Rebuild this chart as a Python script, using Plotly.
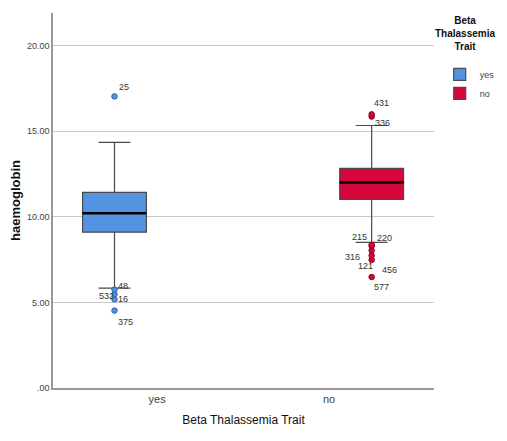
import plotly.graph_objects as go

# ---- data ----
groups = ["yes", "no"]
q1 = [9.10, 11.02]
medians = [10.20, 12.00]
q3 = [11.43, 12.83]
lower_whisker = [5.83, 8.50]
upper_whisker = [14.34, 15.33]

yes_outlier_vals = [17.03, 5.75, 5.48, 5.18, 4.52]
yes_outlier_ids = ["25", "48", "532", "16", "375"]
no_outlier_vals = [15.98, 15.85, 8.36, 8.30, 8.03, 7.74, 7.48, 6.48]
no_outlier_ids = ["431", "336", "215", "220", "316", "121", "456", "577"]

y_tickvals = [0, 5, 10, 15, 20]
y_ticktext = [".00", "5.00", "10.00", "15.00", "20.00"]

colors = ["#5294E2", "#D7063B"]
marker_lines = ["#2F5F9E", "#8E0025"]
outlier_vals = [yes_outlier_vals, no_outlier_vals]
outlier_ids = [yes_outlier_ids, no_outlier_ids]

NARROW = "Liberation Sans Narrow, Arial Narrow, Arial"

fig = go.Figure()
for i, g in enumerate(groups):
    fig.add_trace(go.Box(
        name=g, x=[g], offsetgroup=g,
        q1=[q1[i]], median=[medians[i]], q3=[q3[i]],
        lowerfence=[lower_whisker[i]], upperfence=[upper_whisker[i]],
        y=[outlier_vals[i]], boxpoints="outliers", jitter=0, pointpos=0,
        fillcolor=colors[i], line=dict(color="#4a4a4a", width=1.2),
        whiskerwidth=0.5,
        marker=dict(color=colors[i], size=5.5, line=dict(color=marker_lines[i], width=1)),
        showlegend=True,
    ))
# thick black median overlay
for i, g in enumerate(groups):
    fig.add_trace(go.Box(
        name=g + " median", x=[g], offsetgroup=g,
        q1=[medians[i]], median=[medians[i]], q3=[medians[i]],
        lowerfence=[medians[i]], upperfence=[medians[i]],
        fillcolor="black", line=dict(color="black", width=2.5),
        whiskerwidth=0, boxpoints=False, showlegend=False, hoverinfo="skip",
    ))

# outlier case labels
label_offsets = {
    "25": (9, 9), "48": (8, 4), "532": (-9, -2), "16": (8, 0), "375": (10, -11),
    "431": (9, 11), "336": (10, -6), "215": (-13, 8), "220": (12, 8),
    "316": (-20, -6), "121": (-7, -11), "456": (17, -10), "577": (9, -10),
}
box_shift = [-42, 43]
for i, g in enumerate(groups):
    for v, lab in zip(outlier_vals[i], outlier_ids[i]):
        dx, dy = label_offsets[lab]
        fig.add_annotation(x=g, y=v, xref="x", yref="y", text=lab, showarrow=False,
                           xshift=box_shift[i] + dx, yshift=dy,
                           font=dict(size=9, color="#333", family=NARROW))

# legend title (centred, three lines)
fig.add_annotation(x=1.082, y=1.0, xref="paper", yref="paper", xanchor="center", yanchor="top",
                   text="<b>Beta<br>Thalassemia<br>Trait</b>", align="center", showarrow=False,
                   font=dict(size=10, color="#111", family=NARROW))

# page body adds an 8px margin, so the figure is sized to fit the 507x441 window
fig.update_layout(
    width=499, height=433,
    margin=dict(l=45, r=73, t=5, b=53),
    paper_bgcolor="white", plot_bgcolor="white",
    boxmode="group", boxgap=0.01, boxgroupgap=0.25,
    font=dict(family="Liberation Sans, Arial", color="#222"),
    xaxis=dict(range=[-0.605, 1.61], showline=True, linecolor="#999", linewidth=1.5,
               ticks="", showgrid=False, zeroline=False, automargin=False,
               tickfont=dict(size=11, color="#444", family=NARROW),
               title=dict(text="Beta Thalassemia Trait", standoff=12,
                          font=dict(size=12, color="#111", family=NARROW))),
    yaxis=dict(range=[0, 21.9], tickvals=y_tickvals, ticktext=y_ticktext,
               showline=True, linecolor="#999", linewidth=1.5, ticks="",
               showgrid=True, gridcolor="#c8c8c8", gridwidth=1, zeroline=False,
               automargin=False,
               tickfont=dict(size=9, color="#444", family=NARROW),
               title=dict(text="<b>haemoglobin</b>", standoff=10,
                          font=dict(size=13, color="#111", family="Liberation Sans, Arial"))),
    legend=dict(x=1.015, y=0.875, xanchor="left", yanchor="top",
                font=dict(size=9, color="#444", family=NARROW),
                itemwidth=30, tracegroupgap=0, bgcolor="rgba(0,0,0,0)"),
)

fig.write_html("out.html")
